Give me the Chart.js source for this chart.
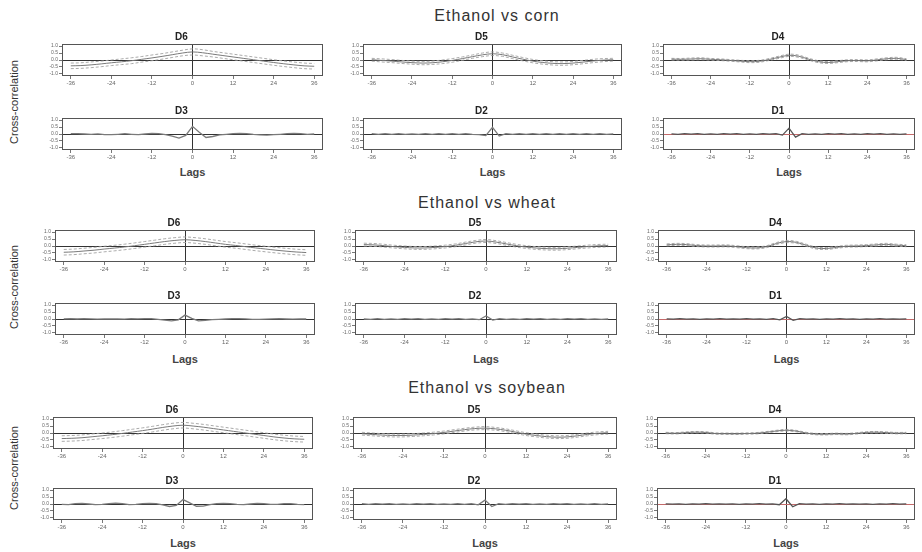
<!DOCTYPE html>
<html>
<head>
<meta charset="utf-8">
<script src="https://cdn.jsdelivr.net/npm/chart.js@4.4.1/dist/chart.umd.min.js"></script>
<style>
body{margin:0;background:#fff;font-family:"Liberation Sans",Arial,sans-serif;}
#wrap{position:relative;width:922px;height:552px;overflow:hidden;}
canvas{position:absolute;}
.gt{position:absolute;font-size:16px;line-height:18px;color:#333;transform:translateX(-50%);white-space:nowrap;letter-spacing:1px;}
.lags{position:absolute;font-size:11px;line-height:13px;font-weight:bold;color:#444;transform:translateX(-50%);}
.yl{position:absolute;font-size:11px;color:#333;transform:translate(-50%,-50%) rotate(-90deg);white-space:nowrap;}
</style>
</head>
<body>
<div id="wrap"></div>
<script>
var lags3 = [-36,-33,-30,-27,-24,-21,-18,-15,-12,-9,-6,-3,0,3,6,9,12,15,18,21,24,27,30,33,36];
var lags2 = [-36,-34,-32,-30,-28,-26,-24,-22,-20,-18,-16,-14,-12,-10,-8,-6,-4,-2,0,2,4,6,8,10,12,14,16,18,20,22,24,26,28,30,32,34,36];
var xTicks = [-36,-24,-12,0,12,24,36];
var yTicks = [-1,-0.5,0,0.5,1];
var groupTitles = ["Ethanol vs corn","Ethanol vs wheat","Ethanol vs soybean"];
var panelNames = ["D6","D5","D4","D3","D2","D1"];

// Ethanol vs corn
var cornD6 = [-0.42,-0.40,-0.35,-0.28,-0.20,-0.13,-0.05,0.05,0.15,0.26,0.38,0.50,0.58,0.52,0.42,0.32,0.22,0.12,0.02,-0.08,-0.18,-0.27,-0.35,-0.42,-0.45];
var cornD6up = [-0.22,-0.20,-0.14,-0.08,0.00,0.08,0.16,0.25,0.36,0.46,0.58,0.70,0.80,0.74,0.62,0.52,0.42,0.32,0.22,0.12,0.02,-0.07,-0.15,-0.22,-0.25];
var cornD6lo = [-0.62,-0.60,-0.55,-0.48,-0.40,-0.33,-0.26,-0.15,-0.05,0.06,0.18,0.30,0.36,0.30,0.22,0.12,0.02,-0.08,-0.18,-0.28,-0.38,-0.47,-0.55,-0.62,-0.65];
var cornD5 = [0.02,-0.03,-0.08,-0.14,-0.19,-0.22,-0.20,-0.13,-0.03,0.10,0.24,0.37,0.45,0.38,0.22,0.06,-0.08,-0.18,-0.24,-0.26,-0.22,-0.15,-0.07,-0.01,0.02];
var cornD5up = [0.12,0.08,0.03,-0.03,-0.08,-0.10,-0.08,0.00,0.10,0.22,0.36,0.50,0.58,0.50,0.34,0.18,0.04,-0.06,-0.12,-0.14,-0.10,-0.03,0.05,0.10,0.12];
var cornD5lo = [-0.08,-0.14,-0.19,-0.25,-0.30,-0.34,-0.32,-0.26,-0.16,-0.02,0.12,0.24,0.32,0.26,0.10,-0.06,-0.20,-0.30,-0.36,-0.38,-0.34,-0.27,-0.19,-0.12,-0.08];
var cornD4 = [0.06,0.05,0.07,0.09,0.05,0.02,-0.03,-0.08,-0.12,-0.09,0.04,0.20,0.34,0.27,0.06,-0.12,-0.18,-0.12,-0.05,-0.04,-0.06,0.01,0.09,0.12,0.03];
var cornD4up = [0.12,0.11,0.14,0.16,0.11,0.08,0.03,-0.02,-0.05,-0.02,0.11,0.28,0.42,0.35,0.13,-0.05,-0.11,-0.05,0.02,0.03,0.01,0.08,0.16,0.19,0.09];
var cornD4lo = [0.00,-0.01,0.00,0.02,-0.01,-0.04,-0.09,-0.14,-0.19,-0.16,-0.03,0.12,0.26,0.19,-0.01,-0.19,-0.25,-0.19,-0.12,-0.11,-0.13,-0.06,0.02,0.05,-0.03];
var cornD3 = [0.02,0.03,0.00,-0.02,0.01,-0.04,-0.05,-0.02,0.02,-0.02,-0.05,0.00,0.04,0.02,-0.05,-0.15,-0.30,-0.10,0.55,0.12,-0.25,-0.18,-0.06,-0.02,0.03,0.05,0.03,-0.03,-0.06,-0.08,-0.05,-0.02,0.02,0.05,0.02,-0.02,0.00];
var cornD2 = [0.02,-0.03,0.03,-0.02,0.02,-0.03,0.01,-0.02,0.03,-0.02,0.02,-0.03,0.02,-0.02,0.03,-0.02,-0.05,-0.12,0.48,-0.15,0.02,-0.02,0.03,-0.02,0.02,-0.03,0.02,-0.02,0.03,-0.02,0.02,-0.03,0.02,-0.02,0.03,-0.02,0.01];
var cornD1 = [0.01,-0.02,0.02,-0.01,0.02,-0.02,0.01,-0.02,0.02,-0.01,0.02,-0.02,0.01,-0.02,0.02,-0.01,0.02,-0.08,0.42,-0.22,0.03,-0.02,0.01,-0.02,0.02,-0.01,0.02,-0.02,0.01,-0.02,0.02,-0.01,0.02,-0.02,0.01,-0.02,0.01];

// Ethanol vs wheat
var wheatD6 = [-0.45,-0.42,-0.36,-0.30,-0.22,-0.15,-0.07,0.02,0.12,0.22,0.32,0.40,0.45,0.40,0.32,0.22,0.12,0.04,-0.05,-0.14,-0.22,-0.30,-0.37,-0.43,-0.47];
var wheatD6up = [-0.25,-0.22,-0.16,-0.10,-0.02,0.05,0.13,0.22,0.32,0.42,0.52,0.60,0.65,0.60,0.52,0.42,0.32,0.24,0.15,0.06,-0.02,-0.10,-0.17,-0.23,-0.27];
var wheatD6lo = [-0.65,-0.62,-0.56,-0.50,-0.42,-0.35,-0.27,-0.18,-0.08,0.02,0.12,0.20,0.25,0.20,0.12,0.02,-0.08,-0.16,-0.25,-0.34,-0.42,-0.50,-0.57,-0.63,-0.67];
var wheatD5 = [0.10,0.08,0.02,-0.05,-0.10,-0.14,-0.14,-0.10,-0.04,0.05,0.18,0.30,0.36,0.28,0.15,0.02,-0.08,-0.15,-0.19,-0.20,-0.16,-0.10,-0.04,0.01,0.03];
var wheatD5up = [0.20,0.18,0.12,0.05,0.00,-0.04,-0.04,0.00,0.06,0.15,0.28,0.40,0.47,0.38,0.25,0.12,0.02,-0.05,-0.09,-0.10,-0.06,0.00,0.06,0.11,0.13];
var wheatD5lo = [0.00,-0.02,-0.08,-0.15,-0.20,-0.24,-0.24,-0.20,-0.14,-0.05,0.08,0.20,0.25,0.18,0.05,-0.08,-0.18,-0.25,-0.29,-0.30,-0.26,-0.20,-0.14,-0.09,-0.07];
var wheatD4 = [0.08,0.12,0.10,0.03,0.00,0.00,0.01,-0.05,-0.12,-0.14,-0.05,0.18,0.32,0.26,0.05,-0.15,-0.18,-0.10,-0.02,0.00,0.03,0.08,0.12,0.06,0.02];
var wheatD4up = [0.15,0.19,0.17,0.10,0.07,0.07,0.08,0.02,-0.05,-0.07,0.02,0.25,0.40,0.33,0.12,-0.08,-0.11,-0.03,0.05,0.07,0.10,0.15,0.19,0.13,0.09];
var wheatD4lo = [0.01,0.05,0.03,-0.04,-0.07,-0.07,-0.06,-0.12,-0.19,-0.21,-0.12,0.11,0.24,0.19,-0.02,-0.22,-0.25,-0.17,-0.09,-0.07,-0.04,0.01,0.05,-0.01,-0.05];
var wheatD3 = [0.01,0.02,0.00,0.02,0.01,-0.01,0.00,0.01,0.00,-0.01,0.02,0.01,0.03,0.02,-0.02,-0.08,-0.14,-0.06,0.28,0.05,-0.14,-0.10,-0.05,-0.03,0.00,0.02,0.03,0.01,-0.02,-0.03,-0.01,0.01,0.02,0.00,-0.01,0.01,0.00];
var wheatD2 = [0.00,-0.02,0.02,-0.02,0.01,-0.02,0.02,-0.01,0.02,-0.02,0.01,-0.02,0.02,-0.01,0.02,-0.02,0.01,-0.05,0.22,-0.08,0.02,-0.02,0.01,-0.02,0.02,-0.01,0.02,-0.02,0.01,-0.02,0.02,-0.01,0.02,-0.02,0.01,-0.02,0.00];
var wheatD1 = [0.01,-0.01,0.02,-0.01,0.01,-0.02,0.01,-0.01,0.02,-0.01,0.01,-0.01,0.02,-0.01,0.01,-0.02,0.02,-0.06,0.18,-0.10,0.02,-0.01,0.01,-0.02,0.01,-0.01,0.02,-0.01,0.01,-0.02,0.01,-0.01,0.02,-0.01,0.01,-0.01,0.01];

// Ethanol vs soybean
var soyD6 = [-0.40,-0.38,-0.34,-0.27,-0.20,-0.12,-0.03,0.07,0.17,0.28,0.40,0.50,0.56,0.50,0.42,0.32,0.22,0.12,0.02,-0.08,-0.18,-0.28,-0.36,-0.42,-0.45];
var soyD6up = [-0.20,-0.18,-0.14,-0.07,0.00,0.08,0.17,0.27,0.37,0.48,0.60,0.70,0.76,0.70,0.62,0.52,0.42,0.32,0.22,0.12,0.02,-0.08,-0.16,-0.22,-0.25];
var soyD6lo = [-0.60,-0.58,-0.54,-0.47,-0.40,-0.32,-0.23,-0.13,-0.03,0.08,0.20,0.30,0.36,0.30,0.22,0.12,0.02,-0.08,-0.18,-0.28,-0.38,-0.48,-0.56,-0.62,-0.65];
var soyD5 = [-0.05,-0.10,-0.15,-0.18,-0.18,-0.15,-0.10,-0.04,0.04,0.14,0.24,0.32,0.35,0.30,0.20,0.06,-0.08,-0.18,-0.26,-0.30,-0.28,-0.20,-0.10,-0.02,0.02];
var soyD5up = [0.05,0.00,-0.05,-0.08,-0.08,-0.05,0.00,0.06,0.14,0.24,0.34,0.42,0.46,0.40,0.30,0.16,0.02,-0.08,-0.16,-0.20,-0.18,-0.10,0.00,0.08,0.12];
var soyD5lo = [-0.15,-0.20,-0.25,-0.28,-0.28,-0.25,-0.20,-0.14,-0.06,0.04,0.14,0.22,0.24,0.20,0.10,-0.04,-0.18,-0.28,-0.36,-0.40,-0.38,-0.30,-0.20,-0.12,-0.08];
var soyD4 = [0.00,-0.02,0.03,0.06,0.04,-0.04,-0.05,-0.06,-0.04,-0.02,0.05,0.14,0.20,0.14,0.00,-0.08,-0.09,-0.06,-0.08,-0.03,0.04,0.06,0.03,-0.01,0.00];
var soyD4up = [0.05,0.03,0.08,0.11,0.09,0.01,0.00,-0.01,0.01,0.03,0.10,0.19,0.26,0.19,0.05,-0.03,-0.04,-0.01,-0.03,0.02,0.09,0.11,0.08,0.04,0.05];
var soyD4lo = [-0.05,-0.07,-0.02,0.01,-0.01,-0.09,-0.10,-0.11,-0.09,-0.07,0.00,0.09,0.14,0.09,-0.05,-0.13,-0.14,-0.11,-0.13,-0.08,-0.01,0.01,-0.02,-0.06,-0.05];
var soyD3 = [-0.02,-0.05,0.02,0.05,0.00,-0.05,-0.03,0.03,0.06,0.02,-0.04,-0.03,0.02,0.05,0.03,-0.06,-0.18,-0.10,0.32,0.08,-0.16,-0.15,-0.05,0.02,0.05,0.02,-0.03,-0.05,0.00,0.04,0.02,-0.03,-0.02,0.02,0.03,-0.02,-0.04];
var soyD2 = [0.02,-0.02,0.03,-0.01,0.02,-0.02,0.01,-0.03,0.02,-0.01,0.02,-0.02,0.01,-0.02,0.02,-0.03,0.02,-0.06,0.28,-0.18,0.02,-0.02,0.03,-0.01,0.02,-0.02,0.01,-0.03,0.02,-0.01,0.02,-0.02,0.01,-0.02,0.02,-0.02,0.01];
var soyD1 = [0.01,-0.01,0.01,-0.02,0.01,-0.01,0.02,-0.01,0.01,-0.01,0.01,-0.02,0.01,-0.01,0.02,-0.01,0.01,-0.05,0.38,-0.20,0.02,-0.01,0.01,-0.02,0.01,-0.01,0.02,-0.01,0.01,-0.01,0.01,-0.02,0.01,-0.01,0.02,-0.01,0.01];

var groups = [
    [[cornD6,cornD6up,cornD6lo],[cornD5,cornD5up,cornD5lo],[cornD4,cornD4up,cornD4lo],[cornD3],[cornD2],[cornD1]],
    [[wheatD6,wheatD6up,wheatD6lo],[wheatD5,wheatD5up,wheatD5lo],[wheatD4,wheatD4up,wheatD4lo],[wheatD3],[wheatD2],[wheatD1]],
    [[soyD6,soyD6up,soyD6lo],[soyD5,soyD5up,soyD5lo],[soyD4,soyD4up,soyD4lo],[soyD3],[soyD2],[soyD1]]
];

// layout of the plot boxes (pixels)
var layout = [
    {title: 16, rows: [44, 118], lefts: [62, 363, 663], rights: [323, 622, 915], lags: 173, ylab: 102, tx: 497},
    {title: 203, rows: [230, 303], lefts: [55, 355, 658], rights: [315, 617, 915], lags: 360, ylab: 287, tx: 487},
    {title: 388, rows: [417, 488], lefts: [53, 353, 657], rights: [313, 617, 915], lags: 544, ylab: 468, tx: 487}
];
var BOX_H = 32, YAX_W = 22, XAX_H = 16, TITLE_H = 13;

var wrap = document.getElementById("wrap");

var boxPlugin = {
    id: "box",
    afterDraw: function (chart) {
        var a = chart.chartArea, c = chart.ctx;
        c.save();
        c.strokeStyle = "#555";
        c.lineWidth = 1;
        c.strokeRect(a.left + 0.5, a.top + 0.5, a.right - a.left - 1, a.bottom - a.top - 1);
        c.restore();
    }
};

function pts(xs, ys) {
    return xs.map(function (x, i) { return {x: x, y: ys[i]}; });
}

function addText(cls, txt, left, top) {
    var d = document.createElement("div");
    d.className = cls;
    d.textContent = txt;
    d.style.left = left + "px";
    d.style.top = top + "px";
    wrap.appendChild(d);
}

function makePanel(name, series, L, row, col) {
    var left = L.lefts[col], right = L.rights[col], top = L.rows[row];
    var cv = document.createElement("canvas");
    var w = right - left + YAX_W + 2, h = TITLE_H + BOX_H + XAX_H;
    cv.width = w; cv.height = h;
    cv.style.left = (left - YAX_W) + "px";
    cv.style.top = (top - TITLE_H) + "px";
    cv.style.width = w + "px"; cv.style.height = h + "px";
    wrap.appendChild(cv);

    var smooth = series.length > 1;
    var xs = smooth ? lags3 : lags2;
    var zeroY = name === "D1" ? "#c46a6a" : "#333";
    var datasets = [{
        data: pts(xs, series[0]),
        borderColor: name === "D1" ? "#555" : "#7a7a7a",
        borderWidth: smooth ? 1 : 1.3,
        tension: smooth ? 0.35 : 0,
        pointRadius: 0
    }];
    if (smooth) {
        datasets.push({data: pts(xs, series[1]), borderColor: "#a0a0a0", borderWidth: 0.9, borderDash: [3, 2], tension: 0.35, pointRadius: 0});
        datasets.push({data: pts(xs, series[2]), borderColor: "#a0a0a0", borderWidth: 0.9, borderDash: [3, 2], tension: 0.35, pointRadius: 0});
    }

    new Chart(cv, {
        type: "line",
        data: {datasets: datasets},
        options: {
            responsive: false,
            animation: false,
            layout: {padding: {left: 0, right: 2, top: 0, bottom: 0}},
            plugins: {
                legend: {display: false},
                tooltip: {enabled: false},
                title: {
                    display: true, text: name, color: "#222",
                    font: {size: 10, weight: "bold", family: "Liberation Sans"},
                    padding: {top: 0, bottom: 1}
                }
            },
            scales: {
                x: {
                    type: "linear", min: -38.6, max: 38.6,
                    afterBuildTicks: function (s) { s.ticks = xTicks.map(function (v) { return {value: v}; }); },
                    afterFit: function (s) { s.height = XAX_H; },
                    ticks: {font: {size: 6, family: "Liberation Sans"}, color: "#666", maxRotation: 0, autoSkip: false, padding: 1},
                    grid: {
                        color: function (ctx) { return ctx.tick && ctx.tick.value === 0 ? "#333" : "rgba(0,0,0,0)"; },
                        tickColor: "#777", tickLength: 3, lineWidth: 1
                    },
                    border: {display: false}
                },
                y: {
                    type: "linear", min: -1.15, max: 1.15,
                    afterBuildTicks: function (s) { s.ticks = yTicks.map(function (v) { return {value: v}; }); },
                    afterFit: function (s) { s.width = YAX_W; },
                    ticks: {font: {size: 5, family: "Liberation Sans"}, color: "#666", padding: 1, autoSkip: false,
                        callback: function (v) { return Number(v).toFixed(1); }},
                    grid: {
                        color: function (ctx) { return ctx.tick && ctx.tick.value === 0 ? zeroY : "rgba(0,0,0,0)"; },
                        tickColor: "#777", tickLength: 3, lineWidth: 1
                    },
                    border: {display: false}
                }
            }
        },
        plugins: [boxPlugin]
    });
}

groups.forEach(function (g, gi) {
    var L = layout[gi];
    addText("gt", groupTitles[gi], L.tx, L.title - 9);
    addText("yl", "Cross-correlation", 14, L.ylab);
    for (var c = 0; c < 3; c++) {
        addText("lags", "Lags", (L.lefts[c] + L.rights[c]) / 2, L.lags - 7);
    }
    g.forEach(function (series, pi) {
        makePanel(panelNames[pi], series, L, pi < 3 ? 0 : 1, pi % 3);
    });
});
</script>
</body>
</html>
